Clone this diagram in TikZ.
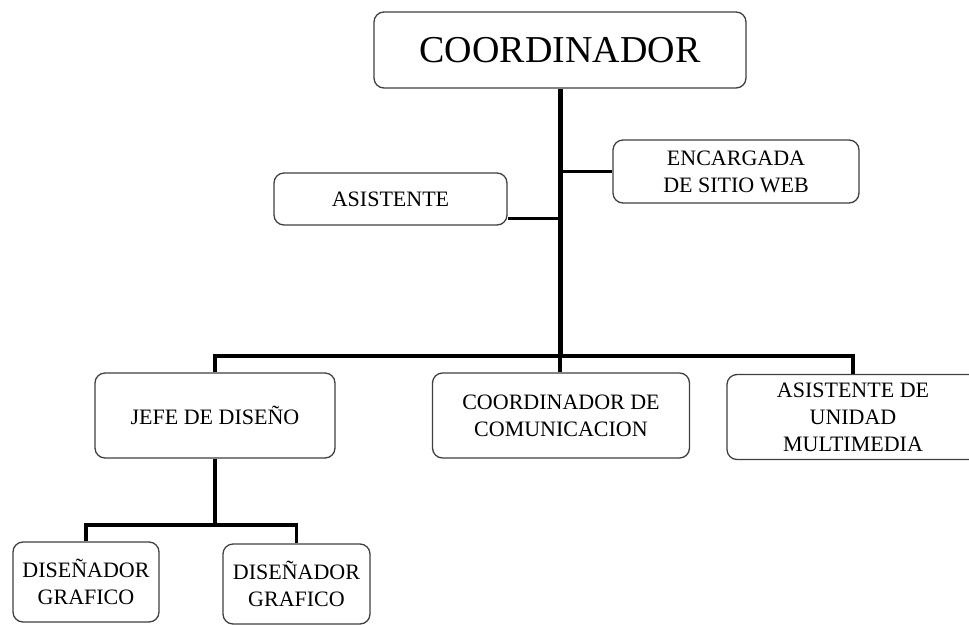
\documentclass[tikz,border=0pt]{standalone}
\usepackage{fontspec}
\setmainfont{Liberation Serif}
\usetikzlibrary{calc}

\tikzset{
    caja/.style={draw=black!75, line width=1.3pt, rounded corners=10pt, fill=white,
        align=center, inner sep=0pt, font=\fontsize{22}{27}\selectfont},
    tronco/.style={line width=5pt},
    rama/.style={line width=3.5pt}
}

\begin{document}
\begin{tikzpicture}[x=1pt, y=-1pt]
        \useasboundingbox (0, 0) rectangle (969, 624);
        \clip (0, 0) rectangle (969, 624);

        % Cajas
        \node[caja, minimum width=372, minimum height=76, font=\fontsize{38}{44}\selectfont] (coord) at (560, 50) {COORDINADOR};
        \node[caja, minimum width=233, minimum height=52] (asis) at (390.5, 199) {ASISTENTE};
        \node[caja, minimum width=246, minimum height=63] (enc) at (736, 171.5) {ENCARGADA\\DE SITIO WEB};
        \node[caja, minimum width=240, minimum height=85] (jefe) at (215, 415.5) {JEFE DE DISEÑO};
        \node[caja, minimum width=257, minimum height=85] (comu) at (561, 415.5) {COORDINADOR DE\\COMUNICACION};
        \node[caja, minimum width=252, minimum height=85] (multi) at (853, 417) {ASISTENTE DE\\UNIDAD\\MULTIMEDIA};
        \node[caja, minimum width=146, minimum height=80] (dg1) at (86, 582) {DISEÑADOR\\GRAFICO};
        \node[caja, minimum width=147, minimum height=80] (dg2) at (296.5, 584) {DISEÑADOR\\GRAFICO};

        % puntos de union
        \coordinate (hub) at (560, 356);
        \coordinate (jhub) at (215, 525);
        \coordinate (asisc) at ($(asis.south east)+(0,-7)$);

        % Tronco
        \draw[tronco] (coord.south) -- (hub);
        \draw[rama] (asisc) -- (asisc -| hub);
        \draw[rama] (enc.west) -- (enc.west -| hub);

        % Segundo nivel
        \draw[rama] (hub) -- (hub |- comu.north);
        \draw[rama] (hub) -| (jefe.north);
        \draw[rama] (hub) -| (multi.north);

        % Disenadores
        \draw[rama] (jefe.south) -- (jhub);
        \draw[rama] (jhub) -| (dg1.north);
        \draw[rama] (jhub) -| (dg2.north);

    \end{tikzpicture}
\end{document}
